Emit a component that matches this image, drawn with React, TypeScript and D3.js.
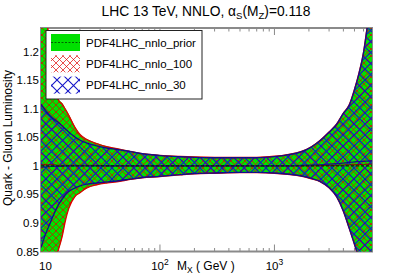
import React from "react";
import * as d3 from "d3";

// invariant mass grid (GeV)
const massGrid = [9.14, 10, 11, 12, 13, 14, 15, 16, 18, 20, 23, 28, 35, 42, 55, 70, 100, 150, 200, 300, 500, 700, 1000, 1300, 1700, 2100, 2500, 3000, 3500, 4000, 4500, 5000, 5500, 6000, 6500, 7113];

// PDF4LHC_nnlo_prior (ratio to prior central)
const priorUp = [1.40, 1.30, 1.20, 1.14, 1.117, 1.11, 1.10, 1.09, 1.07, 1.056, 1.047, 1.040, 1.034, 1.031, 1.026, 1.022, 1.019, 1.017, 1.016, 1.015, 1.015, 1.015, 1.017, 1.020, 1.025, 1.034, 1.045, 1.06, 1.074, 1.093, 1.108, 1.135, 1.165, 1.20, 1.25, 1.32];
const priorLo = [0.70, 0.76, 0.80, 0.83, 0.852, 0.875, 0.905, 0.925, 0.945, 0.9525, 0.961, 0.9665, 0.970, 0.972, 0.976, 0.979, 0.981, 0.984, 0.986, 0.987, 0.988, 0.988, 0.987, 0.985, 0.982, 0.977, 0.972, 0.961, 0.945, 0.92, 0.89, 0.862, 0.835, 0.80, 0.76, 0.70];
const priorMid = [1, 1, 1, 1, 1, 1, 1, 1, 1, 1, 1, 1, 1, 1, 1, 1, 1, 1, 1, 1, 1, 1, 1, 1, 1, 1, 1, 1, 1, 1, 1, 1, 1, 1, 1, 1];

// PDF4LHC_nnlo_100
const mc100Up = [1.39, 1.29, 1.195, 1.137, 1.115, 1.108, 1.098, 1.088, 1.068, 1.055, 1.046, 1.039, 1.033, 1.030, 1.0255, 1.0215, 1.0185, 1.0165, 1.0155, 1.0148, 1.0147, 1.0148, 1.0168, 1.0198, 1.0248, 1.0335, 1.0445, 1.0595, 1.0735, 1.0925, 1.107, 1.134, 1.164, 1.199, 1.248, 1.31];
const mc100Lo = [0.71, 0.765, 0.803, 0.832, 0.854, 0.877, 0.906, 0.926, 0.946, 0.953, 0.9615, 0.967, 0.9703, 0.9723, 0.9763, 0.9793, 0.9813, 0.9843, 0.9862, 0.9872, 0.9882, 0.9882, 0.9872, 0.9853, 0.9823, 0.9775, 0.9725, 0.9615, 0.9455, 0.9205, 0.8905, 0.8625, 0.8355, 0.8005, 0.761, 0.71];
const mc100Mid = [1.002, 1.002, 1.002, 1.002, 1.001, 1.001, 1.001, 1.001, 1.001, 1.001, 1.001, 1.001, 1, 1, 1, 1, 1, 1, 1, 1, 1, 1, 1, 1, 1, 1, 1.0005, 1.001, 1.001, 1.0015, 1.002, 1.002, 1.0025, 1.0025, 1.003, 1.003];

// PDF4LHC_nnlo_30
const hess30Up = [1.108, 1.097, 1.088, 1.081, 1.076, 1.07, 1.064, 1.059, 1.051, 1.045, 1.04, 1.035, 1.031, 1.029, 1.025, 1.0212, 1.018, 1.016, 1.015, 1.0143, 1.0143, 1.0143, 1.0163, 1.0193, 1.0243, 1.033, 1.044, 1.059, 1.073, 1.092, 1.106, 1.133, 1.163, 1.198, 1.246, 1.30];
const hess30Lo = [0.857, 0.88, 0.90, 0.918, 0.932, 0.942, 0.95, 0.955, 0.961, 0.965, 0.968, 0.970, 0.972, 0.9735, 0.9768, 0.9797, 0.9817, 0.9847, 0.9866, 0.9876, 0.9886, 0.9886, 0.9876, 0.9857, 0.9827, 0.978, 0.973, 0.962, 0.946, 0.921, 0.891, 0.863, 0.836, 0.801, 0.762, 0.72];
const hess30Mid = [0.998, 0.998, 0.999, 0.999, 0.999, 0.999, 1, 1, 1, 1, 1, 1, 1, 1, 1, 1, 1, 1, 1, 1, 1, 1, 1, 1, 1.001, 1.0015, 1.002, 1.003, 1.004, 1.005, 1.006, 1.007, 1.0075, 1.008, 1.0085, 1.009];

const yTicks = [0.85, 0.9, 0.95, 1, 1.05, 1.1, 1.15, 1.2];
const yTickLabels = ["0.85", "0.9", "0.95", "1", "1.05", "1.1", "1.15", "1.2"];
const xMajor = [10, 100, 1000];
const xMajorExp = ["", "2", "3"];
const xMinor = [20, 30, 40, 50, 60, 70, 80, 90, 200, 300, 400, 500, 600, 700, 800, 900, 2000, 3000, 4000, 5000, 6000, 7000];

const legendItems = [
  { label: "PDF4LHC_nnlo_prior", kind: "prior" },
  { label: "PDF4LHC_nnlo_100", kind: "mc100" },
  { label: "PDF4LHC_nnlo_30", kind: "hess30" },
];

const W = 413, H = 280;
const left = 41, right = 372, top = 28, bottom = 251.5;
const FONT = "'Liberation Sans', Arial, Helvetica, sans-serif";
const GREEN = "#00e000";
const RED = "#e00000";
const BLUE = "#1414c8";
const FRAME = "#8a8a8a";

export default function App() {
  const x = d3.scaleLog().domain([9.14, 7113]).range([left, right]);
  const y = d3.scaleLinear().domain([0.85, 1.2416]).range([bottom, top]);

  const area = (up: number[], lo: number[]) =>
    d3.area<number>()
      .x((_, i) => x(massGrid[i]))
      .y0((_, i) => y(lo[i]))
      .y1((_, i) => y(up[i]))
      .curve(d3.curveMonotoneX)(massGrid) as string;

  const line = (vals: number[]) =>
    d3.line<number>()
      .x((_, i) => x(massGrid[i]))
      .y((_, i) => y(vals[i]))
      .curve(d3.curveMonotoneX)(massGrid) as string;

  const rows = legendItems.map((d, i) => ({ ...d, cy: 42.5 + i * 21.3 }));

  return (
    <div style={{ position: "fixed", left: 0, top: 0 }}>
      <svg width={W} height={H} style={{ display: "block", background: "#fff" }} fontFamily={FONT}>
        <defs>
          <clipPath id="plotClip">
            <rect x={left} y={top} width={right - left} height={bottom - top} />
          </clipPath>
          <pattern id="redHatch" width={7} height={7} patternUnits="userSpaceOnUse">
            <path d="M0,0L7,7M7,0L0,7" stroke={RED} strokeWidth={0.7} />
          </pattern>
          <pattern id="blueHatch" width={11} height={11} patternUnits="userSpaceOnUse" patternTransform="translate(2,3)">
            <path d="M0,0L11,11M11,0L0,11" stroke={BLUE} strokeWidth={1.1} />
          </pattern>
        </defs>

        {/* title */}
        <text x={206} y={15.5} textAnchor="middle" fontSize={13.8} fill="#000">
          LHC 13 TeV, NNLO, α<tspan fontSize={9.5} dy={3}>S</tspan>
          <tspan dy={-3}>(M</tspan><tspan fontSize={9.5} dy={3}>Z</tspan>
          <tspan dy={-3}>)=0.118</tspan>
        </text>

        {/* frame and ticks */}
        <g stroke={FRAME} fill="none">
          <rect x={left} y={top} width={right - left} height={bottom - top} strokeWidth={2} />
          {xMinor.map((m) => (
            <g key={m}>
              <line x1={x(m)} x2={x(m)} y1={bottom} y2={bottom - 3.5} strokeWidth={1} />
              <line x1={x(m)} x2={x(m)} y1={top} y2={top + 3.5} strokeWidth={1} />
            </g>
          ))}
          {xMajor.map((m) => (
            <g key={m}>
              <line x1={x(m)} x2={x(m)} y1={bottom} y2={bottom - 7} strokeWidth={1} />
              <line x1={x(m)} x2={x(m)} y1={top} y2={top + 7} strokeWidth={1} />
            </g>
          ))}
        </g>

        {/* bands */}
        <g clipPath="url(#plotClip)">
          <path d={area(priorUp, priorLo)} fill={GREEN} />
          <path d={area(mc100Up, mc100Lo)} fill="url(#redHatch)" />
          <path d={area(hess30Up, hess30Lo)} fill="url(#blueHatch)" />
          <path d={line(mc100Up)} fill="none" stroke={RED} strokeWidth={1.4} />
          <path d={line(mc100Lo)} fill="none" stroke={RED} strokeWidth={1.4} />
          <path d={line(hess30Up)} fill="none" stroke="#10108a" strokeWidth={1.4} />
          <path d={line(hess30Lo)} fill="none" stroke="#10108a" strokeWidth={1.4} />
          <path d={line(mc100Mid)} fill="none" stroke="#8a0000" strokeWidth={1} />
          <path d={line(hess30Mid)} fill="none" stroke="#10108a" strokeWidth={1.2} />
          <path d={line(priorMid)} fill="none" stroke="#003000" strokeWidth={1.2} strokeDasharray="3,2" />
        </g>

        {/* y tick labels */}
        {yTicks.map((v, i) => (
          <text key={v} x={39} y={y(v) + 4} textAnchor="end" fontSize={11.5} fill="#000">
            {yTickLabels[i]}
          </text>
        ))}

        {/* x tick labels */}
        {xMajor.map((m, i) => (
          <text key={m} x={x(m)} y={270} textAnchor="middle" fontSize={11.5} fill="#000">
            10{xMajorExp[i] && <tspan fontSize={8.5} dy={-5}>{xMajorExp[i]}</tspan>}
          </text>
        ))}

        {/* axis titles */}
        <text x={177} y={270} fontSize={12} fill="#000">
          M<tspan fontSize={8.5} dy={3}>X</tspan><tspan dy={-3}> ( GeV )</tspan>
        </text>
        <text transform="translate(12,138) rotate(-90)" textAnchor="middle" fontSize={12} fill="#000">
          Quark - Gluon Luminosity
        </text>

        {/* legend */}
        <g>
          <rect x={46} y={30.5} width={156} height={68.5} fill="#fff" stroke="#222" strokeWidth={1} />
          {rows.map((r) => (
            <g key={r.kind}>
              {r.kind === "prior" && (
                <>
                  <rect x={51} y={r.cy - 8.5} width={29} height={17} fill={GREEN} />
                  <line x1={51} x2={80} y1={r.cy} y2={r.cy} stroke="#006000" strokeWidth={1} strokeDasharray="2,1.5" />
                </>
              )}
              {r.kind === "mc100" && <rect x={51} y={r.cy - 8.5} width={29} height={17} fill="url(#redHatch)" />}
              {r.kind === "hess30" && <rect x={51} y={r.cy - 8.5} width={29} height={17} fill="url(#blueHatch)" />}
              <text x={86} y={r.cy + 4} fontSize={11.5} fill="#000">{r.label}</text>
            </g>
          ))}
        </g>
      </svg>
    </div>
  );
}
